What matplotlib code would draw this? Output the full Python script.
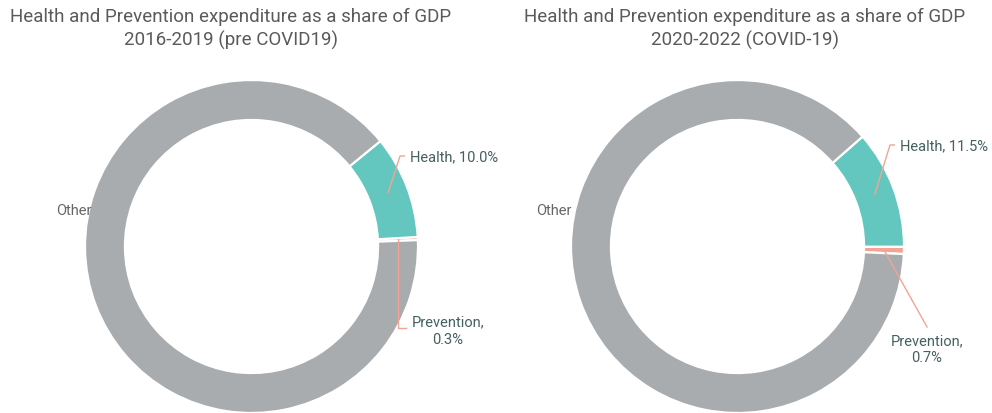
import numpy as np
import matplotlib
matplotlib.use("Agg")
import matplotlib.pyplot as plt

# ---- data ----
categories = ["Prevention", "Health", "Other"]
pre_covid = [0.3, 10.0, 89.7]
covid = [0.7, 11.5, 87.8]
titles = ["Health and Prevention expenditure as a share of GDP\n2016-2019 (pre COVID19)",
          "Health and Prevention expenditure as a share of GDP\n2020-2022 (COVID-19)"]

colors = ["#f2a594", "#63c7bf", "#a8acaf"]
title_color = "#5a5a5a"
label_color = "#44605f"
line_color = "#f2a594"
FONT = ["Roboto", "DejaVu Sans"]
WEIGHT = "normal"

W, H = 992, 414
fig = plt.figure(figsize=(W / 100, H / 100), dpi=100)

R = 166.5          # outer radius in pixels
CY = 247.5         # pie centre y (pixels from top)
HW = 245           # half-width of each axes in pixels


def make_ax(cx):
    ax = fig.add_axes([(cx - HW) / W, 0, 2 * HW / W, 1])
    return ax


def set_lims(ax):
    ax.set_aspect("auto")
    ax.set_xlim(-HW / R, HW / R)
    ax.set_ylim((CY - H) / R, CY / R)
    ax.axis("off")


def px(ax_cx, x, y):
    """pixel position -> data coordinates of the axes centred at ax_cx"""
    return (x - ax_cx) / R, (CY - y) / R


def anchor(wedge, r=0.88):
    a = np.deg2rad((wedge.theta1 + wedge.theta2) / 2)
    return r * np.cos(a), r * np.sin(a)


specs = [
    dict(cx=251.5, vals=pre_covid, start=2.2, title_x=231,
         health_txt=(410, 157), health_bend=(400, 157),
         prev_txt=(448, 331), prev_elbow=True, prev_end=(406, 329), other=(92, 211)),
    dict(cx=737.5, vals=covid, start=-2.6, title_x=745,
         health_txt=(900, 146), health_bend=(890, 146),
         prev_txt=(927, 349.5), prev_elbow=False, prev_end=(927, 328), other=(572, 211)),
]

for i, s in enumerate(specs):
    ax = make_ax(s["cx"])
    wedges, _ = ax.pie(s["vals"], colors=colors, startangle=s["start"], counterclock=True,
                       radius=1.0, wedgeprops=dict(width=0.24, edgecolor="white", linewidth=1.6))
    set_lims(ax)
    vals = s["vals"]
    # Health label
    hx, hy = anchor(wedges[1])
    bx, by = px(s["cx"], *s["health_bend"])
    ex, _ = px(s["cx"], s["health_bend"][0] + 5, 0)
    ax.plot([hx, bx, ex], [hy, by, by], color=line_color, lw=1, solid_capstyle="butt")
    tx, ty = px(s["cx"], *s["health_txt"])
    ax.text(tx, ty, f"{categories[1]}, {vals[1]:.1f}%", ha="left", va="center",
            fontsize=10.5, color=label_color, family=FONT, fontweight=WEIGHT)
    # Prevention label
    px0, py0 = anchor(wedges[0], 0.88)
    qx, qy = px(s["cx"], *s["prev_end"])
    if s["prev_elbow"]:
        ax.plot([px0, px0, qx], [py0, qy, qy], color=line_color, lw=1)
    else:
        ax.plot([px0, qx], [py0, qy], color=line_color, lw=1)
    tx, ty = px(s["cx"], *s["prev_txt"])
    ax.text(tx, ty, f"{categories[0]},\n{vals[0]:.1f}%", ha="center", va="center",
            fontsize=10.5, color=label_color, family=FONT, fontweight=WEIGHT, linespacing=1.3)
    # Other label
    ox, oy = px(s["cx"], *s["other"])
    ax.text(ox, oy, categories[2], ha="right", va="center", fontsize=10.5,
            color="#666666", family=FONT, fontweight=WEIGHT)
    # title
    fig.text(s["title_x"] / W, 1 - 29 / H, titles[i], ha="center", va="center",
             fontsize=13.5, color=title_color, family=FONT, fontweight=WEIGHT, linespacing=1.3)

fig.savefig("out.png", dpi=100)
